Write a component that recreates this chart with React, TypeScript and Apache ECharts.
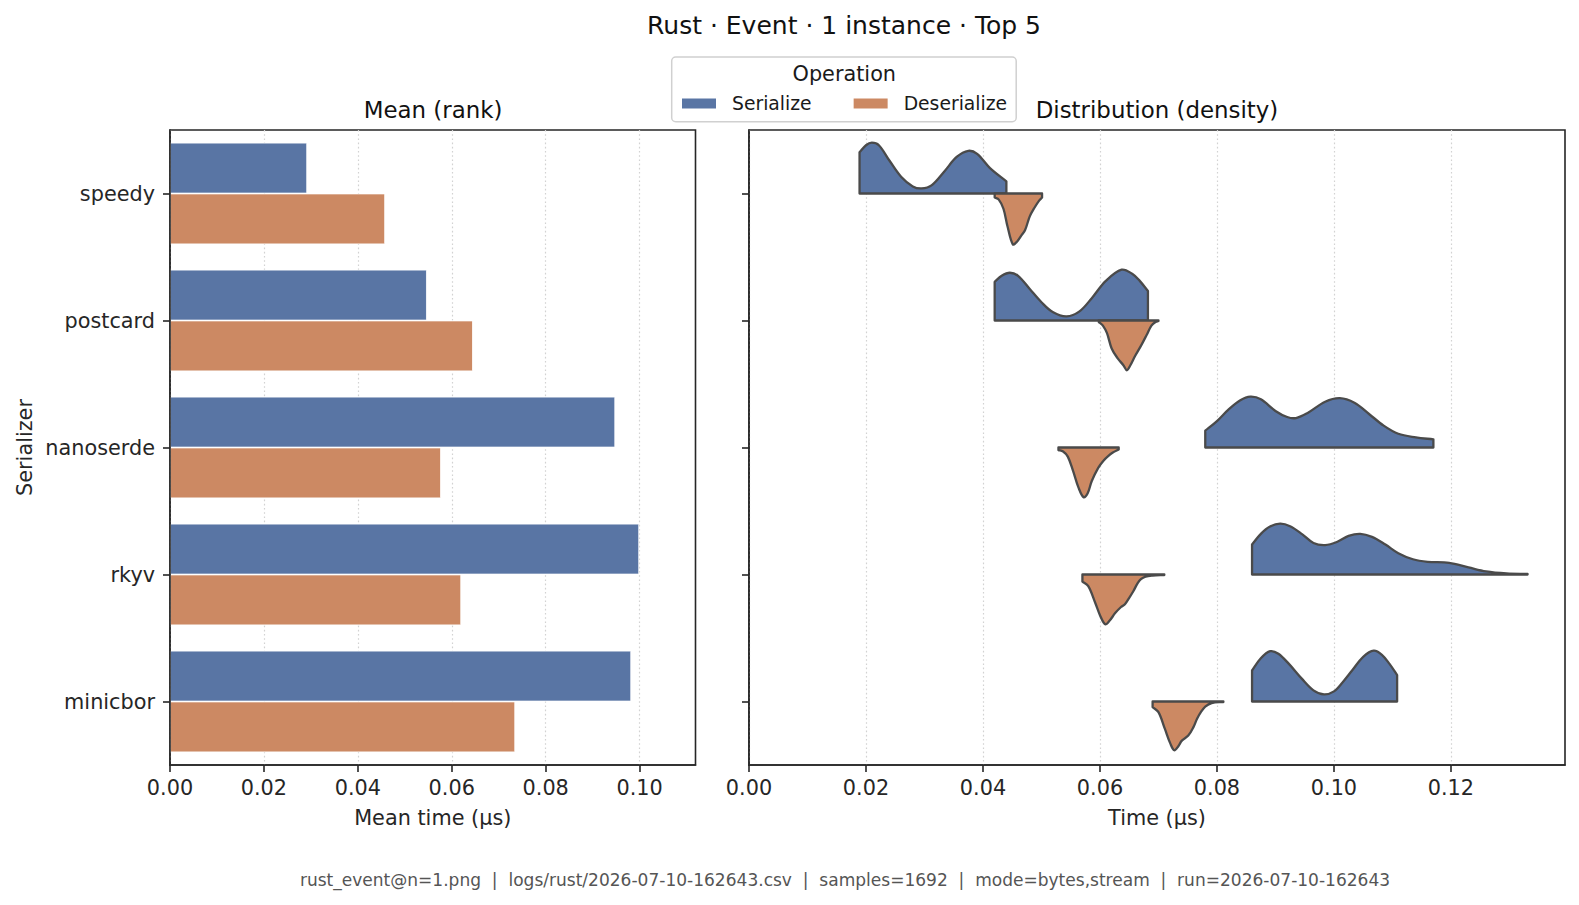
import React, { useEffect, useRef } from "react";
import * as echarts from "echarts";

// Serializers ranked top-to-bottom
const serializers = ["speedy", "postcard", "nanoserde", "rkyv", "minicbor"];
const operations = ["Serialize", "Deserialize"];

// Mean time per operation (µs)
const meanSerialize = [0.0292, 0.0547, 0.0948, 0.0999, 0.0982];
const meanDeserialize = [0.0458, 0.0645, 0.0577, 0.062, 0.0735];

// Tick values
const meanTicks = [0, 0.02, 0.04, 0.06, 0.08, 0.1];
const timeTicks = [0, 0.02, 0.04, 0.06, 0.08, 0.1, 0.12];

// Density profiles: [time (µs), density relative to the widest point]
const speedySer = [
  [0.0189, 0.81], [0.02, 0.95], [0.021, 1.0], [0.0222, 0.95], [0.024, 0.65],
  [0.026, 0.33], [0.028, 0.14], [0.0295, 0.1], [0.0312, 0.16], [0.0335, 0.45],
  [0.0355, 0.72], [0.0375, 0.84], [0.039, 0.78], [0.0412, 0.5], [0.044, 0.24],
];
const speedyDes = [
  [0.042, 0.08], [0.0427, 0.12], [0.0435, 0.3], [0.0442, 0.65], [0.0451, 1.0],
  [0.0458, 0.95], [0.0466, 0.82], [0.0472, 0.72], [0.048, 0.45], [0.0488, 0.28],
  [0.0496, 0.14], [0.0501, 0.08],
];
const postcardSer = [
  [0.042, 0.76], [0.0432, 0.88], [0.0446, 0.94], [0.046, 0.88], [0.048, 0.62],
  [0.05, 0.36], [0.052, 0.16], [0.0543, 0.08], [0.0565, 0.18], [0.0586, 0.44],
  [0.061, 0.78], [0.0637, 1.0], [0.0655, 0.92], [0.0668, 0.78], [0.0682, 0.58],
];
const postcardDes = [
  [0.0598, 0.03], [0.0605, 0.1], [0.0612, 0.25], [0.062, 0.55], [0.063, 0.74],
  [0.064, 0.88], [0.0646, 0.98], [0.0652, 0.88], [0.066, 0.7], [0.067, 0.5],
  [0.068, 0.28], [0.0688, 0.1], [0.0695, 0.03], [0.07, 0.01],
];
const nanoserdeSer = [
  [0.078, 0.33], [0.08, 0.52], [0.082, 0.75], [0.084, 0.93], [0.0857, 1.0],
  [0.0875, 0.95], [0.09, 0.72], [0.092, 0.6], [0.0935, 0.58], [0.0955, 0.68],
  [0.0985, 0.9], [0.101, 0.97], [0.1035, 0.88], [0.106, 0.66], [0.1085, 0.43],
  [0.111, 0.27], [0.114, 0.2], [0.117, 0.16],
];
const nanoserdeDes = [
  [0.0529, 0.05], [0.0537, 0.08], [0.0545, 0.18], [0.0554, 0.46], [0.0563, 0.78],
  [0.0572, 0.98], [0.0579, 0.9], [0.0586, 0.66], [0.0597, 0.4], [0.0606, 0.26],
  [0.0614, 0.17], [0.0622, 0.1], [0.0632, 0.04],
];
const rkyvSer = [
  [0.086, 0.59], [0.0875, 0.8], [0.089, 0.94], [0.0908, 1.0], [0.0925, 0.95],
  [0.0946, 0.79], [0.0965, 0.62], [0.0985, 0.58], [0.1005, 0.64], [0.1025, 0.76],
  [0.1045, 0.8], [0.1065, 0.74], [0.1088, 0.59], [0.111, 0.42], [0.1135, 0.3],
  [0.116, 0.25], [0.1197, 0.23], [0.123, 0.14], [0.126, 0.06], [0.1295, 0.02],
  [0.1331, 0.01],
];
const rkyvDes = [
  [0.057, 0.14], [0.058, 0.23], [0.0592, 0.56], [0.06, 0.8], [0.0609, 0.98],
  [0.0617, 0.9], [0.0626, 0.76], [0.0636, 0.64], [0.0643, 0.58], [0.065, 0.46],
  [0.0657, 0.33], [0.0664, 0.18], [0.067, 0.09], [0.0678, 0.04], [0.069, 0.02],
  [0.071, 0.01],
];
const minicborSer = [
  [0.086, 0.61], [0.0875, 0.85], [0.0891, 0.99], [0.0905, 0.94], [0.0923, 0.74],
  [0.0945, 0.45], [0.0965, 0.22], [0.0983, 0.14], [0.1, 0.2], [0.1015, 0.38],
  [0.1031, 0.61], [0.105, 0.88], [0.1068, 1.0], [0.1082, 0.92], [0.1095, 0.74],
  [0.1108, 0.52],
];
const minicborDes = [
  [0.069, 0.11], [0.07, 0.21], [0.0711, 0.54], [0.072, 0.82], [0.0727, 0.96],
  [0.0734, 0.88], [0.074, 0.77], [0.0751, 0.67], [0.076, 0.5], [0.0766, 0.34],
  [0.0773, 0.2], [0.078, 0.1], [0.0791, 0.03], [0.0811, 0.01],
];

const serializeProfiles = [speedySer, postcardSer, nanoserdeSer, rkyvSer, minicborSer];
const deserializeProfiles = [speedyDes, postcardDes, nanoserdeDes, rkyvDes, minicborDes];

const footerText =
  "rust_event@n=1.png  |  logs/rust/2026-07-10-162643.csv  |  samples=1692  |  mode=bytes,stream  |  run=2026-07-10-162643";

const FONT = "DejaVu Sans";
const INK = "#262626";
const SER_COLOR = "#5975a4";
const DES_COLOR = "#cc8963";
const EDGE = "#4a4a4a";
const HALF_WIDTH = 0.4; // share of a category band used by each half-violin

function halfViolin(profiles: number[][][], sign: number, fill: string) {
  return (_params: any, api: any) => {
    const idx = api.value(1);
    const prof = profiles[idx];
    const band = api.size([0, 1])[1];
    const toPt = (p: number[]) => {
      const c = api.coord([p[0], idx]);
      return [c[0], c[1] - sign * p[1] * HALF_WIDTH * band];
    };
    const first = prof[0];
    const last = prof[prof.length - 1];
    const b0 = api.coord([first[0], idx]);
    const b1 = api.coord([last[0], idx]);
    const p0 = toPt(first);
    const p1 = toPt(last);
    // corner points are doubled so the smoothing keeps the cut edges straight
    const points = [
      b0, b0.slice(), p0, p0.slice(),
      ...prof.slice(1, -1).map(toPt),
      p1, p1.slice(), b1, b1.slice(),
    ];
    return {
      type: "polygon",
      shape: { points, smooth: 0.35 },
      style: { fill, stroke: EDGE, lineWidth: 2.3, lineJoin: "round" },
    };
  };
}

const fmt = (v: number) => v.toFixed(2);

export default function App() {
  const ref = useRef<HTMLDivElement>(null);

  useEffect(() => {
    if (!ref.current) return;
    const chart = echarts.init(ref.current, undefined, { renderer: "svg" });

    const axisTextStyle = { color: INK, fontFamily: FONT, fontSize: 20.8 };
    const frame = { show: true, borderColor: INK, borderWidth: 1.6, backgroundColor: "transparent" };
    const gridLine = { show: true, lineStyle: { color: "#d2d2d2", width: 1.2, type: [1.6, 2.6] } };
    const tick = { show: true, length: 7, lineStyle: { color: INK, width: 1.6 } };

    const option: any = {
      animation: false,
      backgroundColor: "#ffffff",
      textStyle: { fontFamily: FONT },
      grid: [
        { left: 170, top: 130, width: 525.5, height: 635, ...frame },
        { left: 749, top: 130, width: 816, height: 635, ...frame },
      ],
      xAxis: [
        {
          type: "value", gridIndex: 0, min: 0, max: 0.1119, interval: 0.02,
          name: "Mean time (µs)", nameLocation: "middle", nameGap: 42,
          nameTextStyle: axisTextStyle,
          axisLine: { show: true, lineStyle: { color: INK, width: 1.6 } },
          axisTick: { ...tick, customValues: meanTicks },
          axisLabel: { ...axisTextStyle, margin: 12, customValues: meanTicks, formatter: fmt },
          splitLine: gridLine,
        },
        {
          type: "value", gridIndex: 1, min: 0, max: 0.1395, interval: 0.02,
          name: "Time (µs)", nameLocation: "middle", nameGap: 42,
          nameTextStyle: axisTextStyle,
          axisLine: { show: true, lineStyle: { color: INK, width: 1.6 } },
          axisTick: { ...tick, customValues: timeTicks },
          axisLabel: { ...axisTextStyle, margin: 12, customValues: timeTicks, formatter: fmt },
          splitLine: gridLine,
        },
      ],
      yAxis: [
        {
          type: "category", gridIndex: 0, data: serializers, inverse: true, z: 3,
          name: "Serializer", nameLocation: "middle", nameGap: 135, nameRotate: 90,
          nameTextStyle: axisTextStyle,
          axisLine: { show: true, lineStyle: { color: INK, width: 1.6 } },
          axisTick: { ...tick, alignWithLabel: true },
          axisLabel: { ...axisTextStyle, margin: 15 },
          splitLine: { show: false },
        },
        {
          type: "category", gridIndex: 1, data: serializers, inverse: true, z: 3,
          axisLine: { show: true, lineStyle: { color: INK, width: 1.6 } },
          axisTick: { ...tick, alignWithLabel: true },
          axisLabel: { show: false },
          splitLine: { show: false },
        },
      ],
      legend: {
        data: operations,
        left: 680, top: 94, padding: 0,
        icon: "rect", itemWidth: 36, itemHeight: 12, itemGap: 40,
        textStyle: { color: "#1a1a1a", fontFamily: FONT, fontSize: 18.75, padding: [0, 0, 0, 10] },
      },
      series: [
        {
          name: "Serialize", type: "bar", xAxisIndex: 0, yAxisIndex: 0,
          data: meanSerialize, barGap: "0%", barCategoryGap: "20%",
          itemStyle: { color: SER_COLOR, borderColor: "#ffffff", borderWidth: 0.8 },
        },
        {
          name: "Deserialize", type: "bar", xAxisIndex: 0, yAxisIndex: 0,
          data: meanDeserialize, barGap: "0%", barCategoryGap: "20%",
          itemStyle: { color: DES_COLOR, borderColor: "#ffffff", borderWidth: 0.8 },
        },
        {
          name: "Serialize", type: "custom", xAxisIndex: 1, yAxisIndex: 1,
          renderItem: halfViolin(serializeProfiles, 1, SER_COLOR),
          encode: { x: [0, 2], y: 1 },
          data: serializeProfiles.map((p, i) => [p[0][0], i, p[p.length - 1][0]]),
          itemStyle: { color: SER_COLOR },
        },
        {
          name: "Deserialize", type: "custom", xAxisIndex: 1, yAxisIndex: 1,
          renderItem: halfViolin(deserializeProfiles, -1, DES_COLOR),
          encode: { x: [0, 2], y: 1 },
          data: deserializeProfiles.map((p, i) => [p[0][0], i, p[p.length - 1][0]]),
          itemStyle: { color: DES_COLOR },
        },
      ],
      graphic: [
        {
          type: "text", x: 844, y: 25,
          style: { text: "Rust · Event · 1 instance · Top 5", fill: "#111", font: `25px "${FONT}"`, align: "center", verticalAlign: "middle" },
        },
        {
          type: "text", x: 433, y: 110,
          style: { text: "Mean (rank)", fill: "#111", font: `22.9px "${FONT}"`, align: "center", verticalAlign: "middle" },
        },
        {
          type: "text", x: 1157, y: 110,
          style: { text: "Distribution (density)", fill: "#111", font: `22.9px "${FONT}"`, align: "center", verticalAlign: "middle" },
        },
        {
          type: "rect", z: -1,
          shape: { x: 671.7, y: 57, width: 344.5, height: 64.7, r: 4 },
          style: { fill: "rgba(255,255,255,0.85)", stroke: "#d0d0d0", lineWidth: 1.5 },
        },
        {
          type: "text", x: 844.3, y: 74,
          style: { text: "Operation", fill: "#1a1a1a", font: `20.8px "${FONT}"`, align: "center", verticalAlign: "middle" },
        },
        {
          type: "text", x: 845, y: 880,
          style: { text: footerText, fill: "#555555", font: `17.05px "${FONT}"`, align: "center", verticalAlign: "middle" },
        },
      ],
    };

    chart.setOption(option);
    return () => chart.dispose();
  }, []);

  return (
    <div
      ref={ref}
      style={{ position: "fixed", left: 0, top: 0, width: 1579, height: 905, background: "#fff" }}
    />
  );
}
